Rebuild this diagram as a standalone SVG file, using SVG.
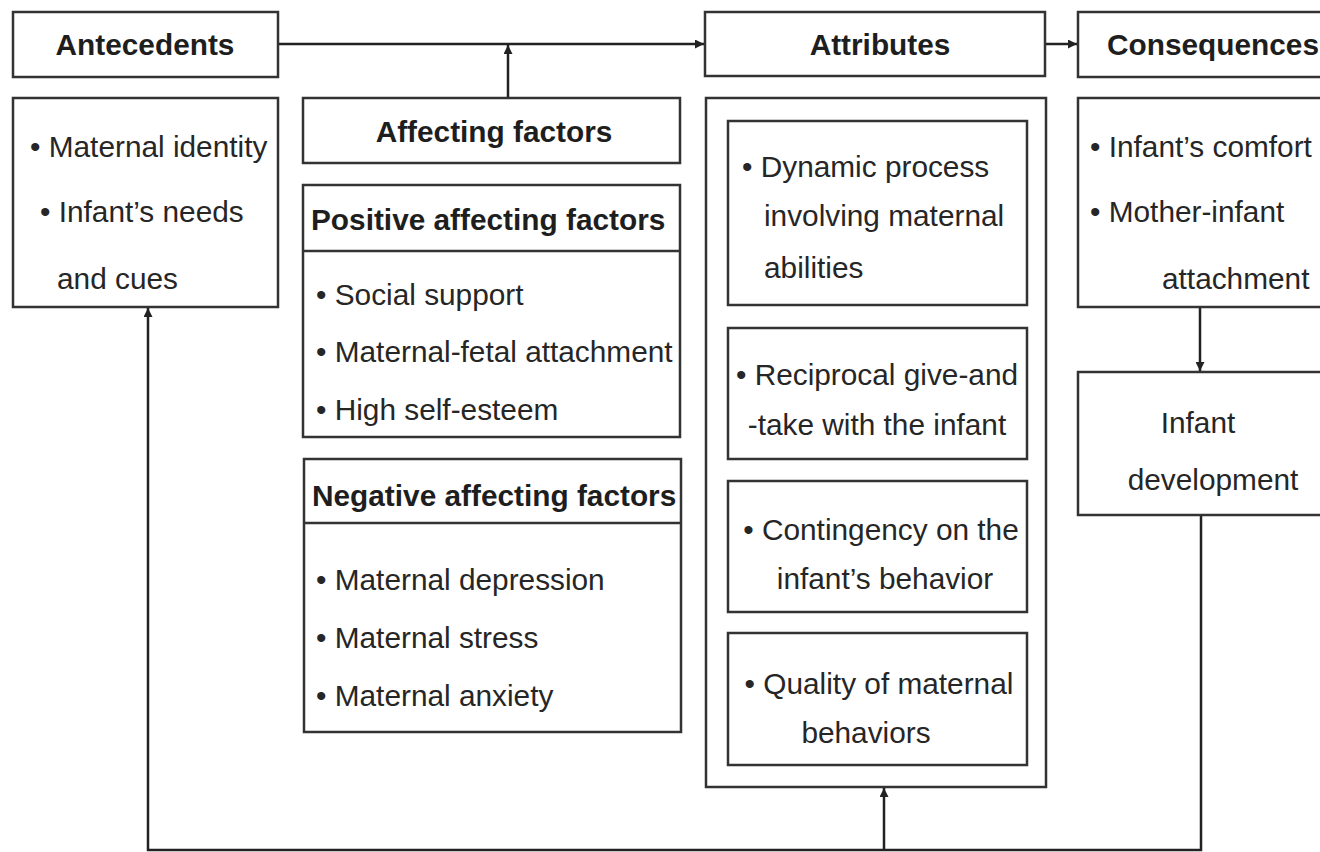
<svg xmlns="http://www.w3.org/2000/svg" width="1320" height="852" viewBox="0 0 1320 852">
  <defs>
    <marker id="arrow" viewBox="0 0 10 10" refX="10" refY="5" markerWidth="11" markerHeight="9" markerUnits="userSpaceOnUse" orient="auto">
      <path d="M0,0 L10,5 L0,10 Z" fill="#222"/>
    </marker>
    <style>
      .box { fill: #ffffff; stroke: #333; stroke-width: 2.5; }
      .div { stroke: #333; stroke-width: 2.5; }
      .hd { font-family: "Liberation Sans", Arial, Helvetica, sans-serif; font-weight: bold; font-size: 29.8px; fill: #1e1e1e; }
      .tx { font-family: "Liberation Sans", Arial, Helvetica, sans-serif; font-size: 29.8px; fill: #262626; }
      .mid { text-anchor: middle; }
      .link { fill: none; stroke: #222; stroke-width: 2.5; }
    </style>
  </defs>
  <rect width="1320" height="852" fill="#ffffff"/>

  <!-- connectors -->
  <g id="connectors">
    <path class="link" d="M278,44 H704" marker-end="url(#arrow)"/>
    <path class="link" d="M508,98 V45" marker-end="url(#arrow)"/>
    <path class="link" d="M1046,44 H1077" marker-end="url(#arrow)"/>
    <path class="link" d="M1200,307 V371" marker-end="url(#arrow)"/>
    <path class="link" d="M1201,515 V850 H148 V308" marker-end="url(#arrow)"/>
    <path class="link" d="M884,850 V788" marker-end="url(#arrow)"/>
  </g>

  <!-- antecedents -->
  <g id="antecedents">
    <rect class="box" x="13" y="12" width="265" height="65"/>
    <text class="hd mid" x="145" y="55">Antecedents</text>
  </g>
  <g id="antecedents-list">
    <rect class="box" x="13" y="98" width="265" height="209"/>
    <text class="tx" x="30" y="157">• Maternal identity</text>
    <text class="tx" x="40" y="222">• Infant’s needs</text>
    <text class="tx" x="57" y="289">and cues</text>
  </g>

  <!-- affecting factors -->
  <g id="affecting-factors">
    <rect class="box" x="303" y="98" width="377" height="65"/>
    <text class="hd mid" x="494" y="142">Affecting factors</text>
  </g>
  <g id="positive-factors">
    <rect class="box" x="303" y="185" width="377" height="252"/>
    <line class="div" x1="303" y1="251" x2="680" y2="251"/>
    <text class="hd" x="311" y="230">Positive affecting factors</text>
    <text class="tx" x="316" y="305">• Social support</text>
    <text class="tx" x="316" y="362">• Maternal-fetal attachment</text>
    <text class="tx" x="316" y="420">• High self-esteem</text>
  </g>
  <g id="negative-factors">
    <rect class="box" x="304" y="459" width="377" height="273"/>
    <line class="div" x1="304" y1="523" x2="681" y2="523"/>
    <text class="hd" x="312" y="506">Negative affecting factors</text>
    <text class="tx" x="316" y="590">• Maternal depression</text>
    <text class="tx" x="316" y="648">• Maternal stress</text>
    <text class="tx" x="316" y="706">• Maternal anxiety</text>
  </g>

  <!-- attributes -->
  <g id="attributes">
    <rect class="box" x="705" y="12" width="340" height="64"/>
    <text class="hd mid" x="880" y="55">Attributes</text>
  </g>
  <g id="attributes-list">
    <rect class="box" x="706" y="98" width="340" height="689"/>
    <rect class="box" x="728" y="121" width="299" height="184"/>
    <text class="tx" x="742" y="177">• Dynamic process</text>
    <text class="tx" x="764" y="226">involving maternal</text>
    <text class="tx" x="764" y="278">abilities</text>
    <rect class="box" x="728" y="328" width="299" height="131"/>
    <text class="tx mid" x="877" y="385">• Reciprocal give-and</text>
    <text class="tx mid" x="877" y="435">-take with the infant</text>
    <rect class="box" x="728" y="481" width="299" height="131"/>
    <text class="tx mid" x="881" y="540">• Contingency on the</text>
    <text class="tx mid" x="885" y="589">infant’s behavior</text>
    <rect class="box" x="728" y="633" width="299" height="132"/>
    <text class="tx mid" x="879" y="694">• Quality of maternal</text>
    <text class="tx mid" x="866" y="743">behaviors</text>
  </g>

  <!-- consequences -->
  <g id="consequences">
    <rect class="box" x="1078" y="12" width="260" height="65"/>
    <text class="hd" x="1107" y="55">Consequences</text>
  </g>
  <g id="consequences-list">
    <rect class="box" x="1078" y="98" width="260" height="209"/>
    <text class="tx" x="1090" y="157">• Infant’s comfort</text>
    <text class="tx" x="1090" y="222">• Mother-infant</text>
    <text class="tx" x="1162" y="289">attachment</text>
  </g>
  <g id="infant-development">
    <rect class="box" x="1078" y="372" width="260" height="143"/>
    <text class="tx mid" x="1198" y="433">Infant</text>
    <text class="tx mid" x="1213" y="490">development</text>
  </g>
</svg>
